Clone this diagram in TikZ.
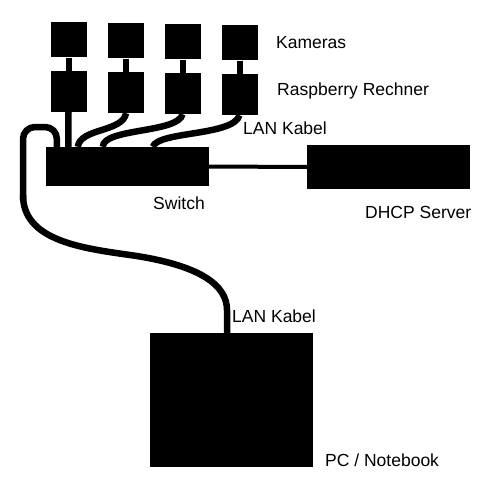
\documentclass[tikz,border=0pt]{standalone}
\usepackage{fontspec}
\setmainfont{Liberation Sans}
\usetikzlibrary{calc,positioning}

\tikzset{
  box/.style={fill=black, inner sep=0pt, minimum width=36pt},
  cable/.style={line width=6.5pt, black},
  stub/.style={line width=6pt, black},
  lbl/.style={anchor=west, inner sep=0pt, font=\fontsize{17.5}{20}\selectfont}
}

\begin{document}
\begin{tikzpicture}[x=1pt,y=-1pt]
    \useasboundingbox (0,0) rectangle (500,500);

    % cameras with their raspberry boards
    \foreach \i/\x/\dy in {1/68.5/0,2/126/1,3/182.5/2,4/239.5/3} {
        \node[box, minimum height=35pt] (cam\i) at (\x,40+\dy) {};
        \node[box, minimum height=41pt] (rpi\i) at (\x,91.5+\dy) {};
        \draw[stub] (cam\i) -- (rpi\i);
    }

    \node[box, minimum width=163pt, minimum height=39pt] (switch) at (127.5,166.5) {};
    \node[box, minimum width=163pt, minimum height=44pt] (dhcp) at (388.5,167) {};
    \node[box, minimum width=163pt, minimum height=134pt] (pc) at (231.5,400) {};

    % ports on the switch and the pc
    \coordinate (port1) at ($(switch.north west)+(22.5,0)$);
    \coordinate (port2) at ($(switch.north west)+(32,0)$);
    \coordinate (port3) at ($(switch.north west)+(57,0)$);
    \coordinate (port4) at ($(switch.north west)+(107,0)$);
    \coordinate (uplink) at ($(switch.north west)+(11,0)$);
    \coordinate (pcport) at ($(pc.north)+(-4.5,0)$);

    \draw[cable] (rpi1.south) -- (port1);
    \draw[cable] (rpi2.south) .. controls +(-3,19) and (80,128) .. (port2);
    \draw[cable] (rpi3.south) .. controls +(-4,19) and (103,128) .. (port3);
    \draw[cable] (rpi4.south) .. controls +(-6,21) and (158,131) .. (port4);

    \draw[line width=4pt] (switch.east) -- (dhcp.west);

    \draw[cable, rounded corners=12pt] (uplink) -- (57,127) -- (23,127) -- (23,200);
    \draw[cable] (23,195) .. controls (23,240) and (80,248) .. (130,255)
        .. controls (200,265) and (227,285) .. (227,310) -- (pcport);

    % labels
    \node[lbl] (tcam) at (276,43) {Kameras};
    \node[lbl] (trpi) at (277,91) {Raspberry Rechner};
    \node[lbl] (tlan1) at (243,128) {LAN Kabel};
    \node[lbl] (tswitch) at (153,203) {Switch};
    \node[lbl] (tdhcp) at (365,212) {DHCP Server};
    \node[lbl] (tlan2) at (232,316) {LAN Kabel};
    \node[lbl] (tpc) at (325,460) {PC / Notebook};
\end{tikzpicture}
\end{document}
